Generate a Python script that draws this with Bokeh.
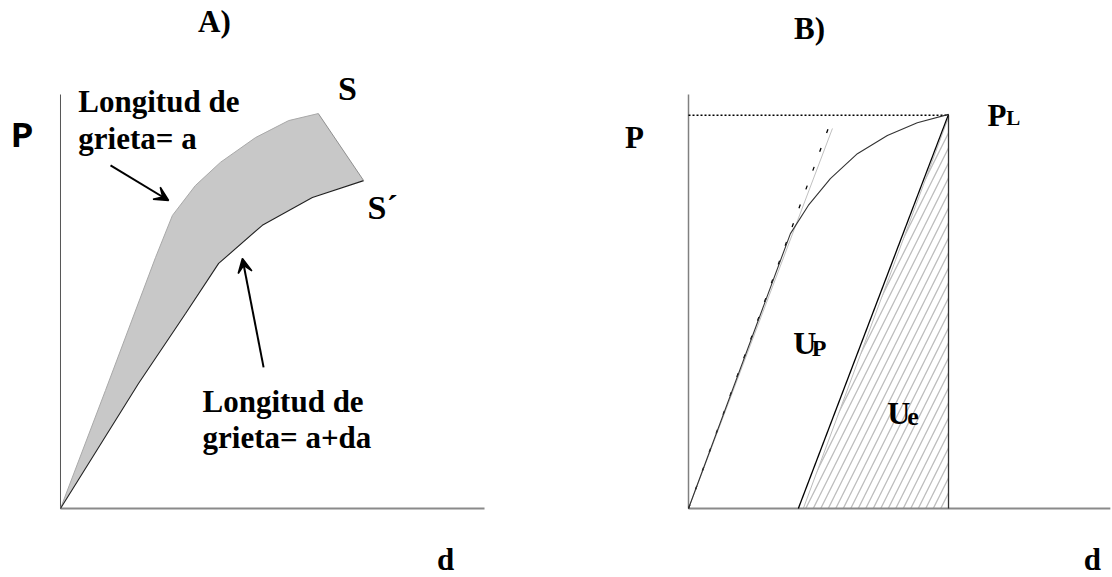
from bokeh.plotting import figure
from bokeh.layouts import row
from bokeh.models import Range1d, Label, Arrow, VeeHead
from bokeh.embed import file_html
from bokeh.resources import INLINE

# ---------------- data (schematic units: d horizontal, P vertical) ----------------
# Panel A: load-displacement curves for crack length a (S) and a+da (S')
curve_a_d = [0, 1.06, 2.24, 2.64, 3.18, 3.77, 4.60, 5.38, 6.08]
curve_a_P = [0, 2.85, 6.06, 7.08, 7.80, 8.36, 8.96, 9.37, 9.54]
curve_ada_d = [0, 1.84, 2.95, 3.73, 4.76, 5.94, 7.15]
curve_ada_P = [0, 3.02, 4.71, 5.92, 6.84, 7.51, 7.92]
axisA_d = [0, 10]
axisA_P = [0, 10]

# Panel B: loading curve up to P_L, elastic tangent, unloading line
load_d = [0, 2.45, 2.88, 3.41, 4.06, 4.78, 5.50, 6.25]
load_P = [0, 6.64, 7.32, 7.97, 8.57, 9.01, 9.32, 9.52]
P_L = 9.50
tangent_d = [0, 3.46]
tangent_P = [0, 9.18]
unload_d = [6.25, 2.64]
unload_P = [9.52, 0]
elastic_d = [2.76, 6.25, 6.25]
elastic_P = [0, 9.45, 0]
axisB_d = [0, 10.14]
axisB_P = [0, 10]

FONT = "Liberation Serif"
BASE_FIX = 0.266  # raise labels so their baselines sit where intended


def make_fig(w, x0, x1):
    p = figure(width=w, height=577, output_backend="svg", toolbar_location=None,
               x_range=Range1d(x0, x1), y_range=Range1d(-1.667, 12.271),
               x_axis_type=None, y_axis_type=None, min_border=0)
    p.grid.visible = False
    p.outline_line_color = None
    p.background_fill_color = "white"
    p.border_fill_color = "white"
    return p


def lab(p, x, y, text, size, align="left", font=FONT):
    p.add_layout(Label(x=x, y=y + BASE_FIX, text=text, text_font=font,
                       text_font_size=f"{size}px", text_font_style="bold",
                       text_color="black", text_align=align,
                       text_baseline="alphabetic"))


# ---------------- Panel A ----------------
pA = make_fig(560, -1.415, 11.792)
pA.line([axisA_d[0], axisA_d[1]], [0, 0], line_color="#8a8a8a", line_width=2)
pA.line([0, 0], [axisA_P[0], axisA_P[1]], line_color="#555555", line_width=1)

band_d = curve_a_d + curve_ada_d[::-1]
band_P = curve_a_P + curve_ada_P[::-1]
pA.patch(band_d, band_P, fill_color="#c8c8c8", line_color=None)
pA.line(curve_a_d, curve_a_P, line_color="#a8a8a8", line_width=1)
pA.line(curve_ada_d, curve_ada_P, line_color="#222222", line_width=1.1)
pA.line([curve_a_d[-1], curve_ada_d[-1]], [curve_a_P[-1], curve_ada_P[-1]],
        line_color="#909090", line_width=1)

pA.add_layout(Arrow(end=VeeHead(size=14, line_color="black", fill_color="black", line_width=1.5),
                    x_start=1.18, y_start=8.29, x_end=2.55, y_end=7.44,
                    line_color="black", line_width=2))
pA.add_layout(Arrow(end=VeeHead(size=14, line_color="black", fill_color="black", line_width=1.5),
                    x_start=4.79, y_start=3.41, x_end=4.29, y_end=6.04,
                    line_color="black", line_width=2))

lab(pA, 3.63, 11.50, "A)", 31, "center")
lab(pA, -0.90, 8.70, "P", 37, "center", font="Liberation Mono")
lab(pA, 0.42, 9.57, "Longitud de", 31)
lab(pA, 0.42, 8.67, "grieta= a", 31)
lab(pA, 6.77, 9.88, "S", 34, "center")
lab(pA, 7.24, 7.00, "S´", 34)
lab(pA, 3.35, 2.32, "Longitud de", 31)
lab(pA, 3.35, 1.45, "grieta= a+da", 31)
lab(pA, 9.08, -1.49, "d", 31, "center")

# ---------------- Panel B ----------------
pB = make_fig(552, -3.077, 10.192)
pB.patch(elastic_d, elastic_P, fill_alpha=0, line_color="#bbbbbb", line_width=1,
         hatch_pattern="/", hatch_scale=15, hatch_color="#bdbdbd", hatch_weight=1.3)
pB.line([axisB_d[0], axisB_d[1]], [0, 0], line_color="#8a8a8a", line_width=2)
pB.line([0, 0], [axisB_P[0], axisB_P[1]], line_color="#808080", line_width=1.5)
pB.line([elastic_d[1], elastic_d[2]], [P_L, elastic_P[2]],
        line_color="#333333", line_width=1.3)
pB.line([0, load_d[-1]], [P_L, P_L], line_color="black", line_width=1.5, line_dash="2 2")
pB.line(tangent_d, tangent_P, line_color="#c0c0c0", line_width=1)
pB.line([tangent_d[0], tangent_d[1] - 0.1], tangent_P, line_color="black",
        line_width=1.3, line_dash="4 16")
pB.line(load_d, load_P, line_color="#333333", line_width=1.1)
pB.line(unload_d, unload_P, line_color="black", line_width=1.3)

lab(pB, 2.91, 11.33, "B)", 31, "center")
lab(pB, -1.30, 8.70, "P", 31, "center")
lab(pB, 7.19, 9.23, "P", 31)
lab(pB, 7.64, 9.16, "L", 21)
lab(pB, 2.52, 3.72, "U", 32)
lab(pB, 2.96, 3.62, "P", 24)
lab(pB, 4.78, 2.05, "U", 32)
lab(pB, 5.26, 1.96, "e", 26)
lab(pB, 9.71, -1.49, "d", 31, "center")

layout = row(pA, pB)
open("out.html", "w").write(file_html(layout, INLINE))
